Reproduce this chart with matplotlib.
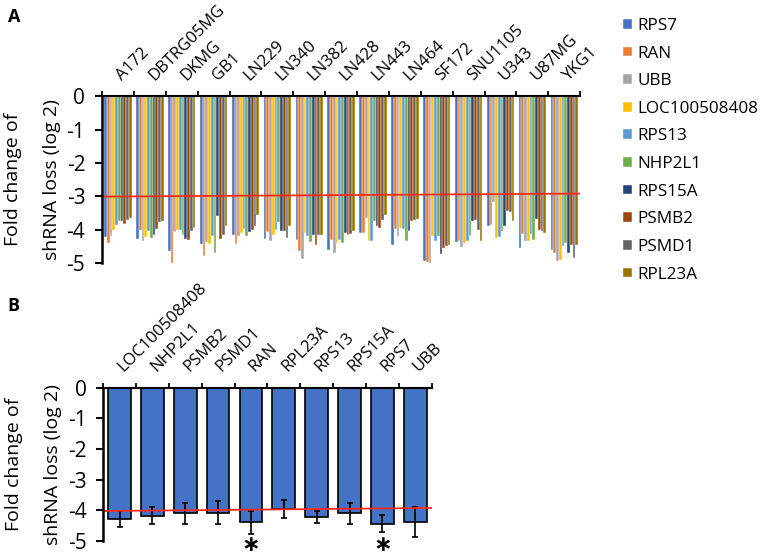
import numpy as np
import matplotlib
matplotlib.use("Agg")
import matplotlib.pyplot as plt
from matplotlib import transforms

plt.rcParams['font.family'] = ['Open Sans', 'DejaVu Sans']

# panel A data
cellLines = ['A172', 'DBTRG05MG', 'DKMG', 'GB1', 'LN229', 'LN340', 'LN382', 'LN428',
             'LN443', 'LN464', 'SF172', 'SNU1105', 'U343', 'U87MG', 'YKG1']
genesA = ['RPS7', 'RAN', 'UBB', 'LOC100508408', 'RPS13', 'NHP2L1', 'RPS15A', 'PSMB2', 'PSMD1', 'RPL23A']
geneColors = ['#4472C4', '#ED7D31', '#A5A5A5', '#FFC000', '#5B9BD5',
              '#70AD47', '#264478', '#9E480E', '#636363', '#997300']
# rows = cell lines, columns = genes (same order as genesA)
foldA = [
    [-4.23, -4.40, -4.18, -4.02, -3.87, -3.73, -3.73, -3.83, -3.70, -3.65],
    [-4.28, -4.02, -4.34, -4.22, -4.05, -4.25, -4.15, -3.98, -3.78, -3.75],
    [-4.65, -5.02, -4.07, -4.00, -4.00, -4.15, -4.27, -4.30, -4.05, -3.95],
    [-4.42, -4.78, -4.38, -4.44, -4.20, -4.70, -3.60, -4.28, -4.15, -3.90],
    [-4.17, -4.42, -4.20, -4.10, -3.97, -4.20, -4.07, -4.02, -3.88, -3.55],
    [-4.28, -4.07, -4.35, -4.15, -4.00, -3.78, -4.05, -4.05, -4.25, -3.90],
    [-4.30, -4.65, -4.87, -4.10, -4.18, -4.37, -4.15, -4.45, -4.15, -4.16],
    [-4.62, -4.30, -4.70, -4.40, -4.32, -4.40, -4.10, -4.15, -4.12, -4.05],
    [-4.10, -4.10, -3.64, -4.35, -4.35, -3.75, -3.90, -3.95, -3.70, -3.55],
    [-4.45, -3.97, -4.18, -3.95, -3.98, -4.33, -4.05, -3.75, -3.70, -3.68],
    [-4.95, -4.98, -5.02, -4.20, -4.35, -4.18, -4.73, -4.55, -4.50, -4.47],
    [-4.37, -4.35, -4.53, -4.40, -4.35, -4.20, -3.75, -3.70, -4.00, -4.35],
    [-3.90, -3.85, -3.18, -4.25, -4.23, -4.05, -3.90, -3.43, -3.46, -3.75],
    [-4.55, -4.13, -4.33, -4.33, -4.13, -4.32, -3.68, -4.02, -4.05, -4.10],
    [-4.62, -4.70, -4.95, -4.90, -4.50, -4.40, -4.70, -4.45, -4.85, -4.45],
]
refLineA = [-3.01, -2.92]

# panel B data
genesB = ['LOC100508408', 'NHP2L1', 'PSMB2', 'PSMD1', 'RAN', 'RPL23A', 'RPS13', 'RPS15A', 'RPS7', 'UBB']
meanB = [-4.28, -4.19, -4.11, -4.08, -4.40, -3.97, -4.23, -4.11, -4.44, -4.38]
errB = [0.26, 0.28, 0.33, 0.38, 0.38, 0.30, 0.20, 0.34, 0.27, 0.49]
starsB = ['RAN', 'RPS7']
refLineB = [-4.03, -3.93]

ylabel = 'Fold change of\nshRNA loss (log 2)'
tickFont = {'size': 15}
labelFont = {'size': 14}
xtickFont = {'size': 12}


def style_axes(ax, n):
    ax.set_xlim(0, n)
    ax.set_ylim(-5, 0)
    ax.xaxis.tick_top()
    ax.spines['bottom'].set_visible(False)
    ax.spines['right'].set_visible(False)
    ax.spines['left'].set_linewidth(1.8)
    ax.spines['top'].set_linewidth(1.5)
    ax.set_xticks(np.arange(n + 1))
    ax.set_xticklabels([])
    ax.tick_params(axis='x', which='major', length=3.5, width=1.3, direction='out')
    ax.tick_params(axis='x', which='minor', length=0, pad=9)
    ax.set_yticks(np.arange(-5, 1))
    ax.set_yticklabels([str(v) for v in range(-5, 1)], **tickFont)
    ax.tick_params(axis='y', length=5, width=1.5, pad=7)
    ax.set_ylabel(ylabel, **labelFont, labelpad=4, linespacing=2.5)


fig = plt.figure(figsize=(7.64, 5.56), dpi=100)

# ---- panel A
axA = fig.add_axes([0.1335, 0.527, 0.626, 0.300])
data = np.array(foldA)
nCells, nGenes = data.shape
barW = 0.86 / nGenes
x = np.arange(nCells)
for j in range(nGenes):
    xs = x + 0.07 + barW * (j + 0.5)
    axA.bar(xs, data[:, j], width=barW, color=geneColors[j], edgecolor='white',
            linewidth=0.3, label=genesA[j])
axA.plot([0, nCells], refLineA, color='#FF2A1A', linewidth=1.3)
style_axes(axA, nCells)
axA.set_xticks(x + 0.72, minor=True)
axA.set_xticklabels(cellLines, minor=True, rotation=45, ha='left', va='bottom',
                    rotation_mode='anchor', **xtickFont)

# ---- panel B
axB = fig.add_axes([0.135, 0.0275, 0.430, 0.2752])
xb = np.arange(len(genesB)) + 0.5
axB.bar(xb, meanB, width=0.69, color='#4472C4', edgecolor='black', linewidth=1.2)
axB.errorbar(xb, meanB, yerr=errB, fmt='none', ecolor='black', elinewidth=1.2,
             capsize=2.5, capthick=1.2)
axB.plot([0, len(genesB)], refLineB, color='#FF2A1A', linewidth=1.3)
starTrans = transforms.blended_transform_factory(axB.transData, fig.transFigure)
for g in starsB:
    i = genesB.index(g)
    axB.text(xb[i], 0.002, '\u2217', transform=starTrans, ha='center', va='bottom',
             fontsize=16, fontweight='bold', family='DejaVu Sans', clip_on=False)
style_axes(axB, len(genesB))
axB.set_xticks(xb + 0.2, minor=True)
axB.set_xticklabels(genesB, minor=True, rotation=45, ha='left', va='bottom',
                    rotation_mode='anchor', **xtickFont)

# legend for panel A
handles, labels = axA.get_legend_handles_labels()
fig.legend(handles, labels, loc='upper left', bbox_to_anchor=(0.807, 0.98),
           frameon=False, fontsize=12.3, handlelength=0.5, handleheight=0.5,
           handletextpad=0.3, labelspacing=0.68, borderaxespad=0)

fig.text(0.01, 0.985, 'A', fontsize=13, fontweight='bold', va='top')
fig.text(0.01, 0.465, 'B', fontsize=13, fontweight='bold', va='top')

fig.savefig('out.png', dpi=100)
